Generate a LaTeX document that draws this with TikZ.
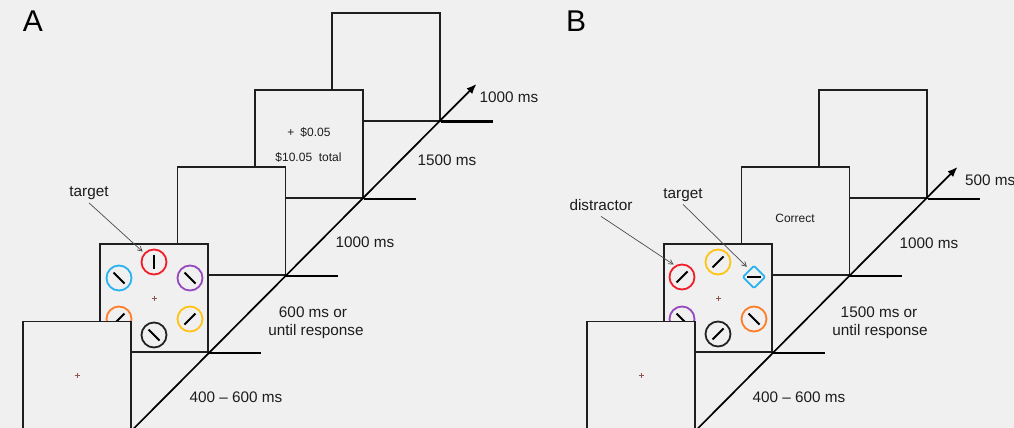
\documentclass[tikz,border=0pt]{standalone}
\usepackage{fontspec}
\setmainfont{Liberation Sans}
\usetikzlibrary{shapes.geometric,arrows.meta}
\definecolor{bgc}{RGB}{240,240,240}
\definecolor{txt}{RGB}{28,28,28}
\definecolor{cred}{RGB}{240,30,40}
\definecolor{cblue}{RGB}{40,178,238}
\definecolor{cpurple}{RGB}{150,72,190}
\definecolor{corange}{RGB}{255,125,40}
\definecolor{cyellow}{RGB}{255,195,20}
\definecolor{cblack}{RGB}{35,35,35}
\definecolor{cfix}{RGB}{140,85,80}
\begin{document}
\begin{tikzpicture}[x=1pt,y=-1pt,
  screen/.style={draw=black!88, line width=1.8pt, fill=bgc, minimum width=108pt, minimum height=108pt, inner sep=0pt},
  tickline/.style={draw=black, line width=2.4pt},
  diag/.style={draw=black, line width=1.7pt, -{Latex[length=10pt,width=8pt]}},
  lbl/.style={font=\fontsize{15.3}{18}\selectfont, text=txt, inner sep=0pt, anchor=base},
  small/.style={font=\fontsize{12}{14}\selectfont, text=txt, inner sep=0pt, anchor=base},
  panel/.style={font=\fontsize{30}{34}\selectfont, text=black, inner sep=0pt, anchor=base},
  item/.style={circle, draw=#1, line width=1.8pt, minimum size=25pt, inner sep=0pt},
  bar/.style={draw=black, line width=2.1pt},
  fix/.style={draw=cfix, line width=0.7pt},
  pointer/.style={draw=black!70, line width=0.7pt, -{Straight Barb[length=4.5pt,width=5pt]}}
]
\fill[bgc] (0,0) rectangle (1014,428);
\useasboundingbox (0,0) rectangle (1014,428);

% ---------------- Panel A ----------------
\node[panel] (labA) at (33,32) {A};
\node[screen] (a5) at (385.8,66.7) {};
\node[screen] (a4) at (308.6,143.9) {};
\node[small] (money) at (309,136.3) {+\hspace{6pt}\$0.05};
\node[small] (total) at (308.5,161) {\$10.05\ \ total};
\node[screen] (a3) at (231.4,221.1) {};
\node[screen] (a2) at (154.2,298.3) {};
\draw[fix] (a2.center) +(-2.5,0) -- +(2.5,0) (a2.center) +(0,-2.5) -- +(0,2.5);
\node[item=cred] (aR) at (154,262) {};
\node[item=cblue] (aB) at (119,278) {};
\node[item=cpurple] (aP) at (190,278) {};
\node[item=corange] (aO) at (119,319) {};
\node[item=cyellow] (aY) at (190,319) {};
\node[item=cblack] (aK) at (154,335) {};
\draw[bar] ([shift={(0,-7)}]aR.center) -- ([shift={(0,7)}]aR.center);
\draw[bar] ([shift={(-5.5,-5.5)}]aB.center) -- ([shift={(5.5,5.5)}]aB.center);
\draw[bar] ([shift={(-5.5,-5.5)}]aP.center) -- ([shift={(5.5,5.5)}]aP.center);
\draw[bar] ([shift={(-5.5,5.5)}]aO.center) -- ([shift={(5.5,-5.5)}]aO.center);
\draw[bar] ([shift={(-5.5,5.5)}]aY.center) -- ([shift={(5.5,-5.5)}]aY.center);
\draw[bar] ([shift={(-5.5,-5.5)}]aK.center) -- ([shift={(5.5,5.5)}]aK.center);
\node[screen] (a1) at (77,375.5) {};
\draw[fix] (a1.center) +(-2.5,0) -- +(2.5,0) (a1.center) +(0,-2.5) -- +(0,2.5);

\draw[tickline] (a2.south east) -- ++(52,0);
\draw[tickline] (a3.south east) -- ++(52,0);
\draw[tickline] (a4.south east) -- ++(52,0);
\draw[tickline] (a5.south east) -- ++(52,0);
\coordinate (tipA) at (476.5,84);
\draw[diag] (a1.south east) -- (tipA);

\node[lbl] (tA) at (89,196) {target};
\draw[pointer] ([yshift=-3.5pt]tA.south) -- ([xshift=-2pt,yshift=1pt]aR.north west);
\node[lbl] (dA1) at (236,402.5) {400 \textendash\ 600 ms};
\node[lbl] (dA2a) at (313,317.5) {600 ms or};
\node[lbl] (dA2b) at (316,335.5) {until response};
\node[lbl] (dA3) at (365,247.5) {1000 ms};
\node[lbl] (dA4) at (447,165.5) {1500 ms};
\node[lbl] (dA5) at (509,102.5) {1000 ms};

% ---------------- Panel B ----------------
\node[panel] (labB) at (576,32) {B};
\node[screen] (b4) at (872.6,143.9) {};
\node[screen] (b3) at (795.4,221.1) {};
\node[small] (corr) at (795,222.3) {Correct};
\node[screen] (b2) at (718.2,298.3) {};
\draw[fix] (b2.center) +(-2.5,0) -- +(2.5,0) (b2.center) +(0,-2.5) -- +(0,2.5);
\node[item=cred] (bR) at (682,277) {};
\node[item=cyellow] (bY) at (718,262) {};
\node[diamond, draw=cblue, line width=1.8pt, minimum width=23pt, minimum height=23pt, inner sep=0pt, aspect=1, rounded corners=1.2pt] (bD) at (754,277) {};
\node[item=cpurple] (bP) at (682,319) {};
\node[item=corange] (bO) at (754,319) {};
\node[item=cblack] (bK) at (718,334) {};
\draw[bar] ([shift={(-5.5,5.5)}]bR.center) -- ([shift={(5.5,-5.5)}]bR.center);
\draw[bar] ([shift={(-5.5,5.5)}]bY.center) -- ([shift={(5.5,-5.5)}]bY.center);
\draw[bar] ([shift={(-7,0)}]bD.center) -- ([shift={(7,0)}]bD.center);
\draw[bar] ([shift={(-5.5,-5.5)}]bP.center) -- ([shift={(5.5,5.5)}]bP.center);
\draw[bar] ([shift={(-5.5,-5.5)}]bO.center) -- ([shift={(5.5,5.5)}]bO.center);
\draw[bar] ([shift={(-5.5,5.5)}]bK.center) -- ([shift={(5.5,-5.5)}]bK.center);
\node[screen] (b1) at (641,375.5) {};
\draw[fix] (b1.center) +(-2.5,0) -- +(2.5,0) (b1.center) +(0,-2.5) -- +(0,2.5);

\draw[tickline] (b2.south east) -- ++(52,0);
\draw[tickline] (b3.south east) -- ++(52,0);
\draw[tickline] (b4.south east) -- ++(52,0);
\coordinate (tipB) at (957.5,167);
\draw[diag] (b1.south east) -- (tipB);

\node[lbl] (dis) at (601,210) {distractor};
\draw[pointer] ([yshift=-6pt]dis.south) -- ([xshift=1pt,yshift=3pt]bR.north west);
\node[lbl] (tB) at (683,198) {target};
\draw[pointer] ([yshift=-3pt]tB.south) -- ([xshift=-1pt,yshift=4pt]bD.north west);
\node[lbl] (dB1) at (799,402.5) {400 \textendash\ 600 ms};
\node[lbl] (dB2a) at (879,317.5) {1500 ms or};
\node[lbl] (dB2b) at (880,335.5) {until response};
\node[lbl] (dB3) at (929,248) {1000 ms};
\node[lbl, anchor=base west] (dB4) at (965,185.5) {500 ms};
\end{tikzpicture}
\end{document}
